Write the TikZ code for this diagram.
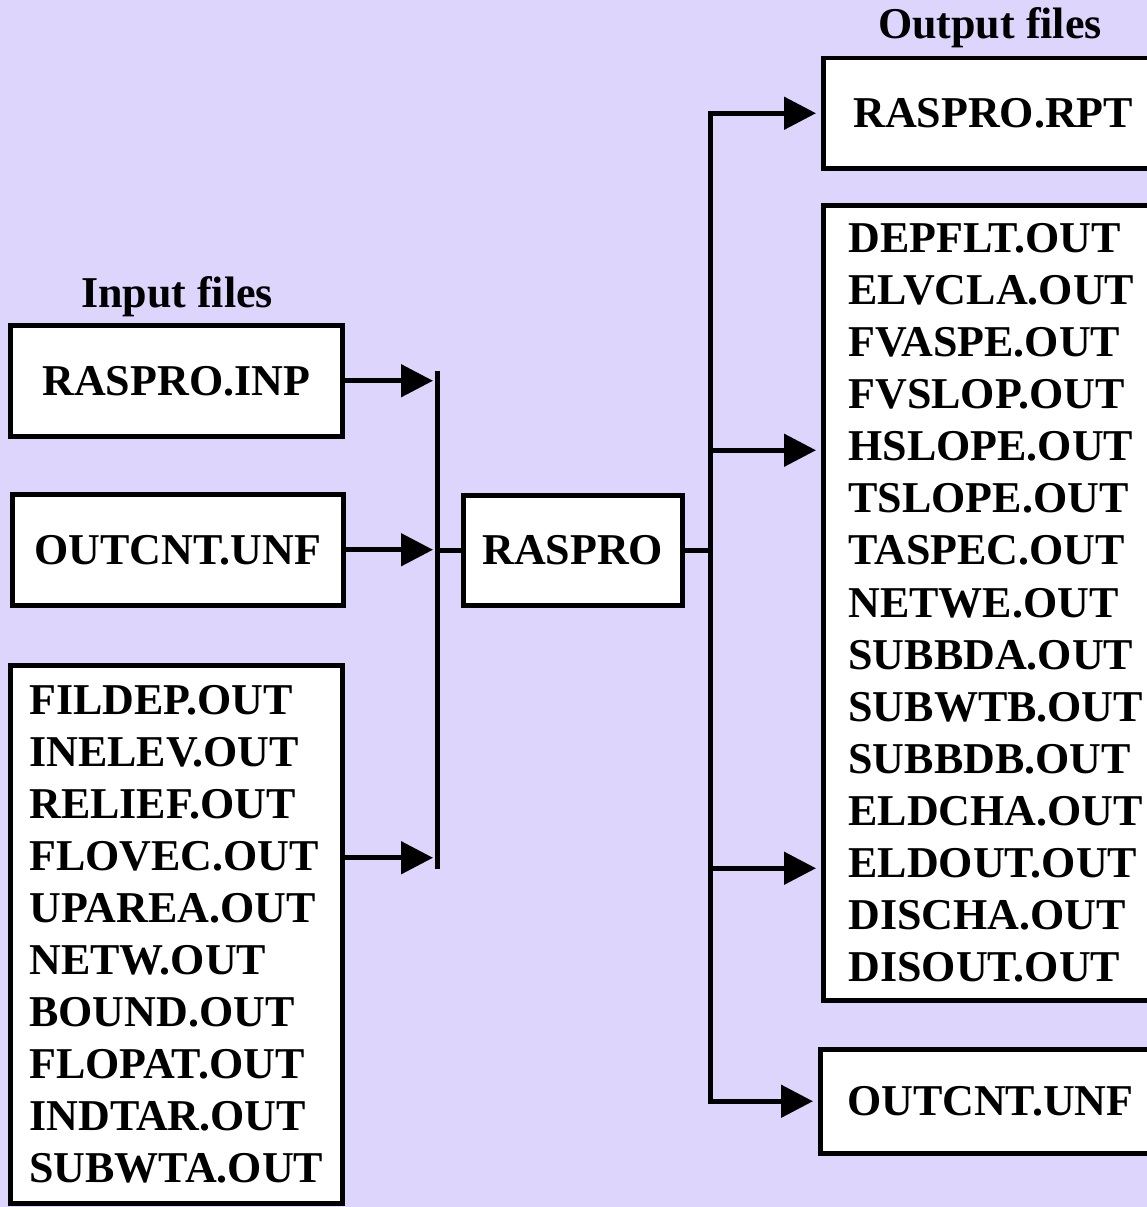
\documentclass[tikz,border=0pt]{standalone}
\usepackage{fontspec}
\setmainfont{Liberation Serif}
\usetikzlibrary{arrows.meta}
\definecolor{bg}{RGB}{221,213,252}
\begin{document}
\begin{tikzpicture}[x=1pt,y=-1pt,
  box/.style={draw, line width=4.5pt, fill=white, anchor=north west, inner sep=0pt,
    font=\fontsize{44}{52.1}\selectfont\bfseries},
  conn/.style={line width=5pt, line cap=rect},
  arr/.style={line width=5pt, -{Triangle[length=32pt,width=32pt]}},
  lbl/.style={font=\fontsize{44}{52}\selectfont\bfseries}]
\clip (0,0) rectangle (1147,1207);
\fill[bg] (0,0) rectangle (1147,1207);

% labels
\node[lbl] (inlbl) at (177,297) {Input files};
\node[lbl] (outlbl) at (990,28) {Output files};

% input boxes
\node[box, minimum width=332pt, minimum height=111pt] (inp) at (8,323) {RASPRO.INP};
\node[box, minimum width=331pt, minimum height=111pt] (incnt) at (10,492) {OUTCNT.UNF};
\node[box, align=left, minimum width=332pt, minimum height=538pt] (inlist) at (8,663)
  {FILDEP.OUT\\INELEV.OUT\\RELIEF.OUT\\FLOVEC.OUT\\UPAREA.OUT\\NETW.OUT\\BOUND.OUT\\FLOPAT.OUT\\INDTAR.OUT\\SUBWTA.OUT};

% program
\node[box, minimum width=219pt, minimum height=110pt] (raspro) at (461,493) {RASPRO};

% output boxes
\node[box, minimum width=340pt, minimum height=110pt] (rpt) at (821,56) {RASPRO.RPT};
\node[box, align=left, minimum width=345pt, minimum height=795pt] (outlist) at (821,203)
  {DEPFLT.OUT\\ELVCLA.OUT\\FVASPE.OUT\\FVSLOP.OUT\\HSLOPE.OUT\\TSLOPE.OUT\\TASPEC.OUT\\NETWE.OUT\\SUBBDA.OUT\\SUBWTB.OUT\\SUBBDB.OUT\\ELDCHA.OUT\\ELDOUT.OUT\\DISCHA.OUT\\DISOUT.OUT};
\node[box, minimum width=340pt, minimum height=104pt] (outcnt) at (818,1047) {OUTCNT.UNF};

% bars
\coordinate (bLtop) at (437,373);
\coordinate (bLbot) at (437,866);
\coordinate (bRx) at (710,0);
\coordinate (bRtop) at (bRx |- rpt.west);
\coordinate (bRbot) at (bRx |- outcnt.west);
\draw[conn] (bLtop) -- (bLbot);
\draw[conn] (bRtop) -- (bRbot);

% input arrows
\draw[arr, shorten >=4pt] (inp.east) -- (inp.east -| bLtop);
\draw[arr, shorten >=4pt] (incnt.east) -- (incnt.east -| bLtop);
\coordinate (lsrc) at ([yshift=76.5pt]inlist.east);
\draw[arr, shorten >=4pt] (lsrc) -- (lsrc -| bLtop);

% program links
\draw[conn] (raspro.west) -- (raspro.west -| bLtop);
\draw[conn] (raspro.east) -- (raspro.east -| bRx);

% output arrows
\draw[arr, shorten >=5pt] (bRtop) -- (rpt.west);
\coordinate (o1) at ([yshift=152.5pt]outlist.west);
\coordinate (o2) at ([yshift=-265.5pt]outlist.west);
\draw[arr, shorten >=5pt] (o1 -| bRx) -- (o1);
\draw[arr, shorten >=5pt] (o2 -| bRx) -- (o2);
\draw[arr, shorten >=5pt] (bRbot) -- (outcnt.west);
\end{tikzpicture}
\end{document}
